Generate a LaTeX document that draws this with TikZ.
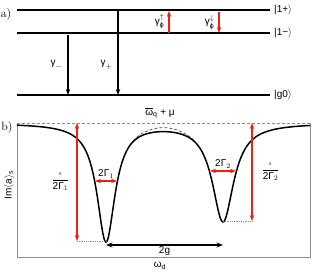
\documentclass[tikz,border=0pt]{standalone}
\usepackage{amsmath}
\usepackage{fontspec}
\setsansfont{Liberation Sans}
\usetikzlibrary{arrows.meta, positioning, calc}
\definecolor{cRed}{RGB}{240,30,20}
\definecolor{cFrame}{RGB}{140,140,140}
\tikzset{
	level/.style={line width=1.5pt},
	decayarrow/.style={-{Stealth[length=6pt, width=4.5pt]}, line width=1.3pt},
	dephasearrow/.style={-{Stealth[length=6pt, width=4.5pt]}, line width=1.1pt, draw=cRed},
	widtharrow/.style={{Stealth[length=6pt, width=4.5pt]}-{Stealth[length=6pt, width=4.5pt]}, line width=1.1pt, draw=cRed},
	splitarrow/.style={{Stealth[length=6.5pt, width=5pt]}-{Stealth[length=6.5pt, width=5pt]}, line width=1.3pt},
	guide/.style={densely dotted, cFrame, line width=0.8pt},
	% text helper
	lab/.style={font=\sffamily\normalsize, inner sep=1pt},
}

\begin{document}
\begin{tikzpicture}[x=1pt, y=-1pt]
	\useasboundingbox (0,0) rectangle (312,272);
	% a) level scheme
	\node[font=\large, inner sep=0pt] (pa) at (6,15) {a)};
	\foreach \name/\y in {up/10, dn/33, gs/95} {
		\coordinate (\name L) at (17,\y);
		\coordinate (\name R) at (270,\y);
		\draw[level] (\name L) -- (\name R);
	}
	\node[lab, anchor=west] (kup) at (273,10) {|1+$\rangle$};
	\node[lab, anchor=west] (kdn) at (273,33) {|1−$\rangle$};
	\node[lab, anchor=west] (kgs) at (273,95) {|g0$\rangle$};
	\coordinate (gmT) at (68,35);  \coordinate (gmB) at (68,95);
	\coordinate (gpT) at (118,11); \coordinate (gpB) at (118,95);
	\draw[decayarrow] (gmT) -- node[lab, left, xshift=-4pt] {$\text{γ}_{-}$} (gmB);
	\draw[decayarrow] (gpT) -- node[lab, left, xshift=-4pt, pos=0.64] {$\text{γ}_{+}$} (gpB);
	\coordinate (fuB) at (169,33); \coordinate (fuT) at (169,11);
	\coordinate (fdT) at (219,12); \coordinate (fdB) at (219,33);
	\draw[dephasearrow] (fuB) -- node[lab, left, xshift=-3pt] {$\text{γ}^{\uparrow}_{\text{ϕ}}$} (fuT);
	\draw[dephasearrow] (fdT) -- node[lab, left, xshift=-3pt] {$\text{γ}^{\downarrow}_{\text{ϕ}}$} (fdB);

	% b) spectrum
	\node[font=\large, inner sep=0pt] (pb) at (7,128) {b)};
	\coordinate (fTL) at (17,123);  \coordinate (fBL) at (17,257);
	\coordinate (fBR) at (310,257); \coordinate (fTR) at (310,123);
	\draw[cFrame, line width=1pt] (fTL) -- (fBL) -- (fBR) -- (fTR);
	\draw[densely dashed, cFrame, line width=0.8pt] (fTL) -- (fTR);
	\node[lab] (asym) at (160,113) {$\overline{\text{ω}}_{\text{q}}$ + μ};
	\node[lab, rotate=90] (ylab) at (9,185) {Im$\langle$a$\rangle_{\text{s}}$};
	\node[lab] (xlab) at (160,266) {$\text{ω}_{\text{d}}$};
	\draw[densely dashed, black!70, line width=0.7pt] plot[domain=130:196, samples=60]
		(\x, {123 + 142.78/(((\x-106)/10)^2 + 1.21) + 165.62/(((\x-223)/10)^2 + 1.69) - 4*exp(-(((\x-163)/25)^2))});
	\draw[line width=1.5pt] plot[domain=17:310, samples=400]
		(\x, {123 + 142.78/(((\x-106)/10)^2 + 1.21) + 165.62/(((\x-223)/10)^2 + 1.69)});
	% depths and widths
	\coordinate (e1T) at (77,123);  \coordinate (e1B) at (77,241);  \coordinate (m1) at (106,241);
	\coordinate (e2T) at (252,123); \coordinate (e2B) at (252,221); \coordinate (m2) at (223,221);
	\draw[guide] (e1B) -- (m1);
	\draw[guide] (m2) -- (e2B);
	\draw[widtharrow] (e1T) -- node[lab, left, xshift=-6pt] {$\dfrac{\text{\tiny ε}}{\text{2Γ}_1}$} (e1B);
	\draw[widtharrow] (e2T) -- node[lab, right, xshift=8pt] {$\dfrac{\text{\tiny ε}}{\text{2Γ}_2}$} (e2B);
	\coordinate (w1L) at (95,181);  \coordinate (w1R) at (117,181);
	\coordinate (w2L) at (210,171); \coordinate (w2R) at (236,171);
	\draw[widtharrow] (w1L) -- node[lab, above, yshift=1pt] {2Γ$_1$} (w1R);
	\draw[widtharrow] (w2L) -- node[lab, above, yshift=1pt] {2Γ$_2$} (w2R);
	\coordinate (s1) at (106,245); \coordinate (s2) at (223,245);
	\draw[splitarrow] (s1) -- node[lab, below] {2g} (s2);
\end{tikzpicture}
\end{document}
